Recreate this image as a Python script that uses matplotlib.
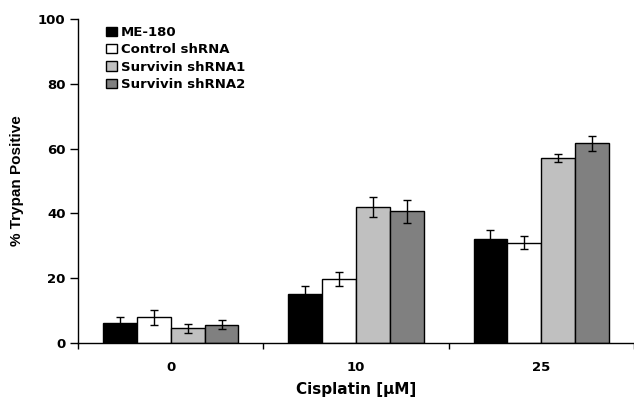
import numpy as np
import matplotlib.pyplot as plt

plt.rcParams['font.family'] = ['DejaVu Sans']
plt.rcParams['font.weight'] = 'bold'

doses = ["0", "10", "25"]
series = ["ME-180", "Control shRNA", "Survivin shRNA1", "Survivin shRNA2"]
colors = ["#000000", "#ffffff", "#c0c0c0", "#808080"]

means = [
    [6.3, 15.0, 32.2],   # ME-180
    [7.9, 19.7, 31.0],   # Control shRNA
    [4.5, 41.9, 57.1],   # Survivin shRNA1
    [5.6, 40.6, 61.6],   # Survivin shRNA2
]
errors = [
    [1.8, 2.6, 2.6],
    [2.2, 2.2, 2.0],
    [1.3, 3.1, 1.1],
    [1.4, 3.5, 2.2],
]


def main():
    fig = plt.figure(figsize=(6.34, 4.0), dpi=100)
    ax = fig.add_axes([78 / 634, 57 / 400, 556 / 634, 324 / 400])

    x = np.arange(len(doses))
    width = 0.183
    for i, name in enumerate(series):
        offset = (i - 1.5) * width
        ax.bar(x + offset, means[i], width, color=colors[i], edgecolor="black",
               linewidth=1.0, label=name, zorder=2)
        ax.errorbar(x + offset, means[i], yerr=errors[i], fmt="none",
                    ecolor="black", elinewidth=1.0, capsize=3, capthick=1.0, zorder=3)

    ax.set_xlim(-0.5, 2.5)
    ax.set_ylim(0, 100)
    ax.set_yticks([0, 20, 40, 60, 80, 100])
    ax.tick_params(axis="y", direction="out", length=6, width=1, labelsize=9.5, pad=3)

    # boundaries between dose groups carry the tick marks, centres carry the labels
    ax.set_xticks([-0.5, 0.5, 1.5, 2.5])
    ax.set_xticklabels([])
    ax.tick_params(axis="x", which="major", direction="out", length=4, width=1)
    ax.set_xticks(x, minor=True)
    ax.set_xticklabels(doses, minor=True)
    ax.tick_params(axis="x", which="minor", length=0, labelsize=9.5, pad=13)

    for side in ["top", "right"]:
        ax.spines[side].set_visible(False)
    ax.spines["left"].set_linewidth(1)
    ax.spines["bottom"].set_linewidth(1)

    ax.set_xlabel("Cisplatin [\u00b5M]", fontsize=11, fontweight="bold", labelpad=6)
    ax.set_ylabel("% Trypan Positive", fontsize=11, fontweight="bold",
                  family="Liberation Sans", labelpad=10)

    ax.legend(loc="upper left", bbox_to_anchor=(0.041, 0.994), frameon=False,
              fontsize=9.5, handlelength=0.85, handleheight=0.7, handletextpad=0.3,
              labelspacing=0.32, borderaxespad=0)

    fig.savefig("out.png", dpi=100)


if __name__ == "__main__":
    main()
